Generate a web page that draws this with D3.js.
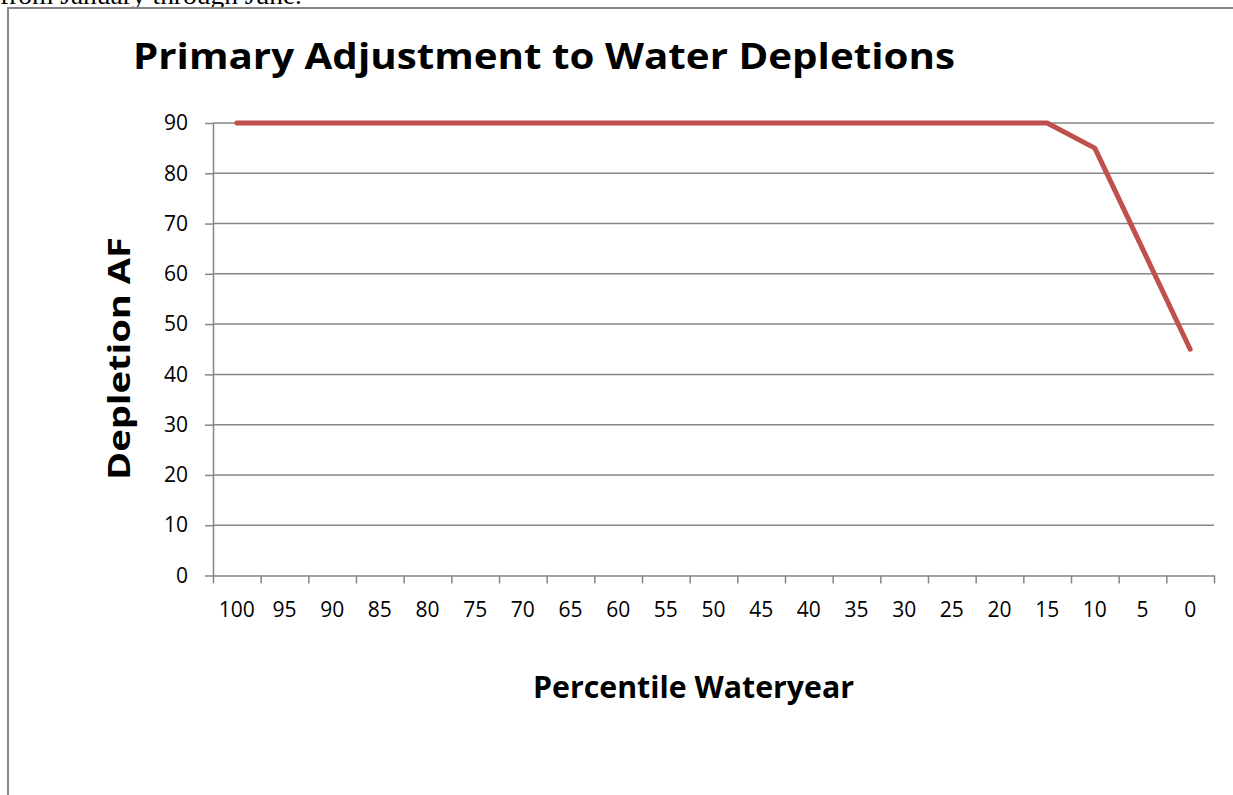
<html>
<head>
    <style>
        body { margin: 0; background: #ffffff; overflow: hidden; }
        svg { display: block; }
    </style>
    <script src="https://cdn.jsdelivr.net/npm/d3@7"></script>
</head>
<body>
<svg id="grafico"></svg>
<script>
    // datos
    let percentiles = ["100","95","90","85","80","75","70","65","60","55","50","45","40","35","30","25","20","15","10","5","0"];
    let depletion   = [90, 90, 90, 90, 90, 90, 90, 90, 90, 90, 90, 90, 90, 90, 90, 90, 90, 90, 85, 65, 45];
    let yTicks      = [0, 10, 20, 30, 40, 50, 60, 70, 80, 90];

    let ancho = 1233, alto = 795;
    let margenes = { left: 213, right: 1214, top: 123, bottom: 575.5 };
    let fuente = "'Open Sans', Calibri, sans-serif";

    let svg = d3.select("#grafico").attr("width", ancho).attr("height", alto);

    // texto del documento cortado arriba
    svg.append("text")
        .attr("x", 0).attr("y", 4)
        .attr("font-family", "'Liberation Serif', 'Times New Roman', serif")
        .attr("font-size", 25)
        .attr("textLength", 302).attr("lengthAdjust", "spacingAndGlyphs")
        .text("from January through June.");

    // marco del grafico
    svg.append("rect")
        .attr("x", 8).attr("y", 8)
        .attr("width", 1300).attr("height", 900)
        .attr("fill", "none")
        .attr("stroke", "#868686")
        .attr("stroke-width", 2);

    let x = d3.scaleBand()
        .domain(percentiles)
        .range([margenes.left, margenes.right])
        .padding(0);

    let xBordes = d3.scaleLinear()
        .domain([0, percentiles.length])
        .range([margenes.left, margenes.right]);

    let y = d3.scaleLinear()
        .domain([0, 90])
        .range([margenes.bottom, margenes.top]);

    // lineas de rejilla
    svg.append("g").selectAll("line")
        .data(yTicks.filter(d => d > 0))
        .enter().append("line")
            .attr("x1", margenes.left).attr("x2", margenes.right)
            .attr("y1", d => y(d)).attr("y2", d => y(d))
            .attr("stroke", "#868686")
            .attr("stroke-width", 1.5);

    // eje Y
    let ejeY = svg.append("g")
        .attr("transform", `translate(${margenes.left},0)`)
        .call(d3.axisLeft(y).tickValues(yTicks).tickSize(8).tickPadding(17).tickSizeOuter(0));
    ejeY.selectAll("line").attr("stroke", "#868686").attr("stroke-width", 1.5);
    ejeY.select(".domain").attr("stroke", "#868686").attr("stroke-width", 1.5);
    ejeY.selectAll("text").attr("font-family", fuente).attr("font-size", 21).attr("fill", "#000");

    // eje X: marcas en los bordes de categoria
    let ejeXMarcas = svg.append("g")
        .attr("transform", `translate(0,${margenes.bottom})`)
        .call(d3.axisBottom(xBordes).tickValues(d3.range(percentiles.length + 1)).tickSize(8).tickFormat("").tickSizeOuter(0));
    ejeXMarcas.selectAll("line").attr("stroke", "#868686").attr("stroke-width", 1.5);
    ejeXMarcas.select(".domain").attr("stroke", "#868686").attr("stroke-width", 1.5);

    // eje X: etiquetas centradas
    let ejeXTextos = svg.append("g")
        .attr("transform", `translate(0,${margenes.bottom})`)
        .call(d3.axisBottom(x).tickSize(0).tickPadding(27));
    ejeXTextos.select(".domain").remove();
    ejeXTextos.selectAll("text").attr("font-family", fuente).attr("font-size", 21).attr("fill", "#000");

    // serie
    let linea = d3.line()
        .x((d, i) => x(percentiles[i]) + x.bandwidth() / 2)
        .y(d => y(d));

    svg.append("path")
        .datum(depletion)
        .attr("d", linea)
        .attr("fill", "none")
        .attr("stroke", "#C0504D")
        .attr("stroke-width", 5)
        .attr("stroke-linejoin", "round")
        .attr("stroke-linecap", "round");

    // titulos
    svg.append("text")
        .attr("x", 133).attr("y", 69)
        .attr("font-family", fuente).attr("font-weight", "bold").attr("font-size", 35)
        .attr("textLength", 822).attr("lengthAdjust", "spacingAndGlyphs")
        .text("Primary Adjustment to Water Depletions");

    svg.append("text")
        .attr("x", 533).attr("y", 698)
        .attr("font-family", fuente).attr("font-weight", "bold").attr("font-size", 31)
        .attr("textLength", 321).attr("lengthAdjust", "spacingAndGlyphs")
        .text("Percentile Wateryear");

    svg.append("text")
        .attr("transform", "translate(130,480) rotate(-90)")
        .attr("font-family", fuente).attr("font-weight", "bold").attr("font-size", 31)
        .attr("textLength", 243).attr("lengthAdjust", "spacingAndGlyphs")
        .text("Depletion AF");
</script>
</body>
</html>
